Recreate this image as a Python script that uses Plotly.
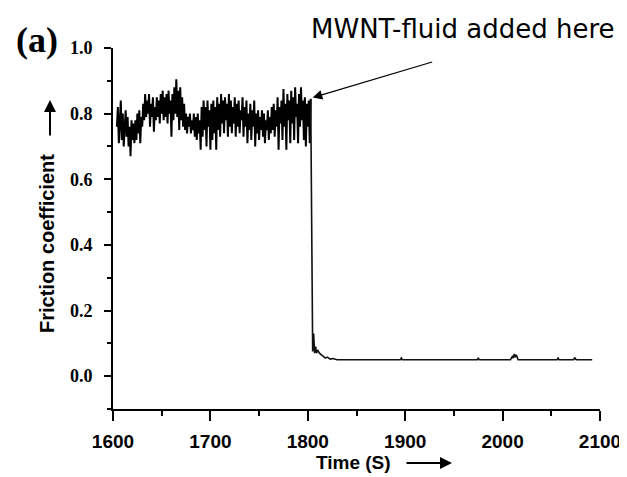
import plotly.graph_objects as go

# ---- data ----
noise_start = 1604      # first sample time (s)
noise_step = 1.0        # sampling interval (s)
noise_values = [
    0.76, 0.82, 0.71, 0.79, 0.84, 0.72, 0.80, 0.70, 0.77, 0.81,
    0.73, 0.79, 0.70, 0.76, 0.67, 0.78, 0.72, 0.77, 0.71, 0.78,
    0.72, 0.80, 0.74, 0.81, 0.71, 0.79, 0.76, 0.83, 0.78, 0.86,
    0.79, 0.84, 0.80, 0.86, 0.76, 0.83, 0.79, 0.85, 0.745, 0.82,
    0.78, 0.85, 0.79, 0.84, 0.77, 0.86, 0.80, 0.87, 0.78, 0.85,
    0.79, 0.86, 0.77, 0.87, 0.80, 0.84, 0.73, 0.86, 0.78, 0.88,
    0.80, 0.905, 0.79, 0.87, 0.75, 0.88, 0.78, 0.85, 0.76, 0.83,
    0.75, 0.80, 0.74, 0.79, 0.76, 0.80, 0.74, 0.78, 0.75, 0.80,
    0.73, 0.79, 0.72, 0.80, 0.74, 0.78, 0.69, 0.82, 0.73, 0.84,
    0.75, 0.82, 0.70, 0.84, 0.76, 0.81, 0.69, 0.83, 0.72, 0.84,
    0.74, 0.82, 0.69, 0.85, 0.75, 0.83, 0.73, 0.86, 0.77, 0.84,
    0.74, 0.85, 0.78, 0.83, 0.73, 0.86, 0.76, 0.84, 0.74, 0.82,
    0.77, 0.85, 0.73, 0.83, 0.76, 0.84, 0.74, 0.81, 0.78, 0.85,
    0.73, 0.82, 0.76, 0.84, 0.71, 0.80, 0.75, 0.83, 0.72, 0.81,
    0.76, 0.84, 0.70, 0.80, 0.74, 0.81, 0.72, 0.79, 0.75, 0.81,
    0.73, 0.80, 0.71, 0.78, 0.75, 0.81, 0.72, 0.79, 0.74, 0.82,
    0.75, 0.83, 0.73, 0.81, 0.76, 0.85, 0.69, 0.82, 0.77, 0.84,
    0.72, 0.875, 0.76, 0.83, 0.69, 0.86, 0.78, 0.84, 0.71, 0.87,
    0.77, 0.85, 0.72, 0.88, 0.79, 0.83, 0.71, 0.86, 0.76, 0.88,
    0.78, 0.84, 0.72, 0.85, 0.70, 0.83, 0.76, 0.84, 0.71, 0.845,
]

tail_times = [1804.3, 1805, 1806, 1807, 1808, 1809, 1810, 1812, 1814, 1816,
              1818, 1820, 1823, 1826, 1830, 1895, 1896, 1897, 1974, 1975,
              1976, 2008, 2010, 2011, 2012, 2013, 2014, 2016, 2056, 2057,
              2058, 2073, 2074, 2075, 2076, 2092]
tail_values = [0.27, 0.075, 0.13, 0.07, 0.09, 0.07, 0.08, 0.07, 0.065, 0.06,
               0.055, 0.058, 0.052, 0.054, 0.05, 0.05, 0.055, 0.05, 0.05, 0.056,
               0.05, 0.05, 0.06, 0.055, 0.068, 0.058, 0.065, 0.05, 0.05, 0.055,
               0.05, 0.05, 0.057, 0.052, 0.05, 0.05]

x_ticks = [1600, 1700, 1800, 1900, 2000, 2100]
y_ticks = [0.0, 0.2, 0.4, 0.6, 0.8, 1.0]

noise_times = [noise_start + noise_step * i for i in range(len(noise_values))]

fig = go.Figure()
# before the fluid is added: dense noisy band
fig.add_trace(go.Scatter(x=noise_times, y=noise_values, mode="lines",
                         line=dict(color="black", width=2.0),
                         showlegend=False, hoverinfo="skip"))
# the drop and the low-friction tail (joined to the last noisy sample)
fig.add_trace(go.Scatter(x=noise_times[-1:] + tail_times,
                         y=noise_values[-1:] + tail_values, mode="lines",
                         line=dict(color="#111111", width=1.6),
                         showlegend=False, hoverinfo="skip"))

# the page body adds an 8 px margin; the figure is sized to fit the window
OFF = 8
W, H = 627 - OFF, 477 - OFF
# plot area in window pixels: x 113..600, y 48..409
L, T = 113 - OFF, 48 - OFF
R, B = W - (600 - OFF), H - (409 - OFF)
pw, ph = W - L - R, H - T - B


def px(x):
    return (x - OFF - L) / pw


def py(y):
    return (H - B - (y - OFF)) / ph


fig.update_layout(
    width=W, height=H,
    margin=dict(l=L, r=R, t=T, b=B, autoexpand=False),
    paper_bgcolor="white", plot_bgcolor="white",
    xaxis=dict(range=[1600, 2100], tickvals=x_ticks,
               ticktext=[str(v) for v in x_ticks], automargin=False,
               ticks="outside", ticklen=10, tickwidth=2, tickcolor="black",
               showline=True, linewidth=2, linecolor="black",
               showgrid=False, zeroline=False,
               minor=dict(dtick=50, ticks="outside", ticklen=5, tickwidth=2,
                          tickcolor="black", showgrid=False),
               tickfont=dict(family="Liberation Sans", size=19, color="black",
                             weight="bold"),
               ticklabelstandoff=4),
    yaxis=dict(range=[-0.1, 1.0], tickvals=y_ticks,
               ticktext=[f"{v:.1f}" for v in y_ticks], automargin=False,
               ticks="outside", ticklen=7, tickwidth=2, tickcolor="black",
               showline=True, linewidth=2, linecolor="black",
               showgrid=False, zeroline=False,
               minor=dict(dtick=0.1, ticks="outside", ticklen=4, tickwidth=2,
                          tickcolor="black", showgrid=False),
               tickfont=dict(family="Liberation Serif", size=18, color="black",
                             weight="bold"),
               ticklabelstandoff=8),
)

annotations = [
    dict(text="(a)", x=px(37), y=py(40), xref="paper", yref="paper",
         xanchor="center", yanchor="middle", showarrow=False,
         font=dict(family="Liberation Serif", size=36, color="black",
                   weight="bold")),
    dict(text="MWNT-fluid added here", x=px(463), y=py(29), xref="paper",
         yref="paper", xanchor="center", yanchor="middle", showarrow=False,
         font=dict(family="DejaVu Sans", size=26, color="black")),
    dict(text="", x=1805, y=0.849, xref="x", yref="y", showarrow=True,
         ax=121, ay=-36, arrowhead=2, arrowsize=1.6, arrowwidth=1.2,
         arrowcolor="black"),
    dict(text="Friction coefficient", x=px(47), y=py(244), xref="paper",
         yref="paper", xanchor="center", yanchor="middle", showarrow=False,
         textangle=-90,
         font=dict(family="Liberation Sans", size=20, color="black",
                   weight="bold")),
    dict(text="", x=px(50), y=py(100), xref="paper", yref="paper",
         showarrow=True, ax=0, ay=37, arrowhead=2, arrowsize=1.2,
         arrowwidth=2, arrowcolor="black"),
    dict(text="Time (S)", x=px(353), y=py(462), xref="paper", yref="paper",
         xanchor="center", yanchor="middle", showarrow=False,
         font=dict(family="Liberation Sans", size=19, color="black",
                   weight="bold")),
    dict(text="", x=px(452), y=py(463), xref="paper", yref="paper",
         showarrow=True, ax=-47, ay=0, arrowhead=2, arrowsize=1.2,
         arrowwidth=2, arrowcolor="black"),
]
fig.update_layout(annotations=annotations)

fig.write_html("out.html")
